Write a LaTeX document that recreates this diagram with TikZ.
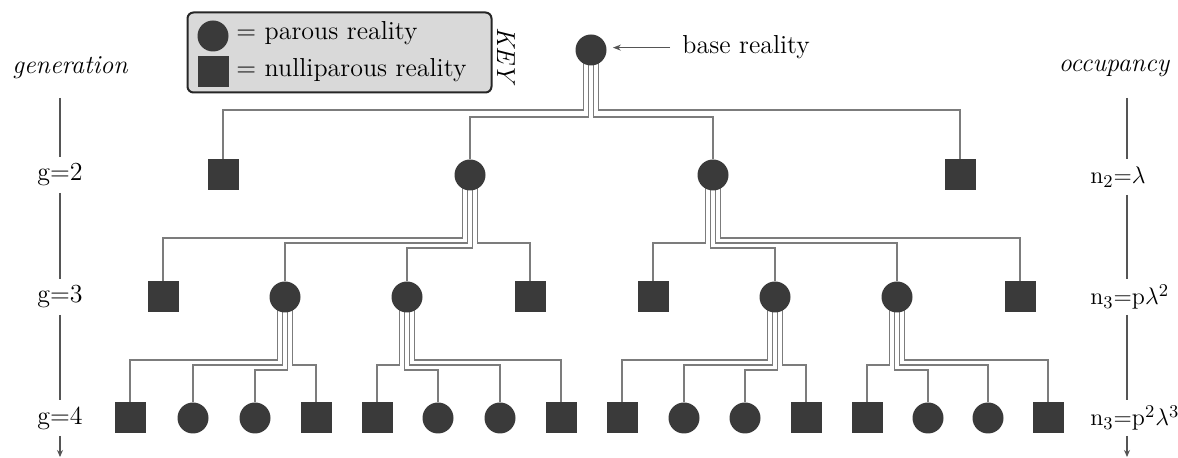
\documentclass[tikz,border=0pt]{standalone}
\usetikzlibrary{calc,arrows.meta}
\pgfdeclarelayer{bg}
\pgfsetlayers{bg,main}
\definecolor{nodefill}{HTML}{3A3A3A}
\definecolor{linkgray}{HTML}{7C7C7C}
\definecolor{keyfill}{HTML}{D9D9D9}
\definecolor{axisgray}{HTML}{555555}
\tikzset{
  basefont/.style={font=\fontsize{13}{15.5}\selectfont},
  itfont/.style={font=\fontsize{13}{15.5}\selectfont\itshape},
  par/.style={circle, fill=nodefill, minimum size=15.5pt, inner sep=0pt},
  nul/.style={rectangle, fill=nodefill, minimum size=15.5pt, inner sep=0pt},
  link/.style={draw=linkgray, line width=0.8pt},
  axisline/.style={draw=axisgray, line width=0.55pt},
  axisend/.style={axisline, -{Stealth[length=3.5pt,width=3pt]}},
  lbl/.style={basefont, inner sep=0pt},
  itlbl/.style={itfont, inner sep=0pt},
}
\newcommand\mybundle[4]{%
  \draw[link] let \p1=(#1.center), \p2=(#2.north) in
    ({\x1+(#3)*0.5pt},\y1) -- ({\x1+(#3)*0.5pt},{-(#4)*0.5pt})
    -- (\x2,{-(#4)*0.5pt}) -- (\x2,\y2);}
\begin{document}
\begin{tikzpicture}[x=0.5pt,y=-0.5pt]
\useasboundingbox (0,0) rectangle (1178,458);
% key
\node[draw=black!85, line width=1pt, rounded corners=3pt, fill=keyfill,
      minimum width=152pt, minimum height=40pt, inner sep=0pt] (key) at (339.5,52.5) {};
\node[par] (kc) at (213,36) {};
\node[nul] (ks) at (213,72) {};
\node[lbl, anchor=base west] (kct) at (236,40) {= parous reality};
\node[lbl, anchor=base west] (kst) at (236,77) {= nulliparous reality};
\node[itlbl, rotate=-90] (keyt) at (506,55) {KEY};
% root
\node[par] (r) at (591,50) {};
\node[lbl, anchor=base west] (brt) at (682,54) {base reality};
\draw[link, line width=0.6pt, draw=axisgray, -{Stealth[length=4pt,width=3pt]}]
  ([xshift=-6pt]brt.west) -- ([xshift=3pt]r.east |- brt.west);
% generation 2
\node[nul] (a1) at (223,175) {};
\node[par] (a2) at (470,175) {};
\node[par] (a3) at (713,175) {};
\node[nul] (a4) at (960,175) {};
% generation 3
\node[nul] (b1) at (163,297) {};
\node[par] (b2) at (285,297) {};
\node[par] (b3) at (407,297) {};
\node[nul] (b4) at (530,297) {};
\node[nul] (b5) at (653,297) {};
\node[par] (b6) at (775,297) {};
\node[par] (b7) at (897,297) {};
\node[nul] (b8) at (1020,297) {};
% generation 4
\node[nul] (c1) at (130,418) {};
\node[par] (c2) at (193,418) {};
\node[par] (c3) at (255,418) {};
\node[nul] (c4) at (316,418) {};
\node[nul] (c5) at (377,418) {};
\node[par] (c6) at (438,418) {};
\node[par] (c7) at (500,418) {};
\node[nul] (c8) at (561,418) {};
\node[nul] (c9) at (622,418) {};
\node[par] (c10) at (684,418) {};
\node[par] (c11) at (745,418) {};
\node[nul] (c12) at (806,418) {};
\node[nul] (c13) at (867,418) {};
\node[par] (c14) at (928,418) {};
\node[par] (c15) at (988,418) {};
\node[nul] (c16) at (1048,418) {};
% connectors
\begin{pgfonlayer}{bg}
\mybundle{r}{a1}{-7.5}{110}
\mybundle{r}{a2}{-2.5}{117}
\mybundle{r}{a3}{2.5}{117}
\mybundle{r}{a4}{7.5}{110}
\mybundle{a2}{b1}{-7.5}{238}
\mybundle{a2}{b2}{-2.5}{243}
\mybundle{a2}{b3}{2.5}{248}
\mybundle{a2}{b4}{7.5}{243}
\mybundle{a3}{b5}{-7.5}{243}
\mybundle{a3}{b6}{-2.5}{248}
\mybundle{a3}{b7}{2.5}{243}
\mybundle{a3}{b8}{7.5}{238}
\mybundle{b2}{c1}{-7.5}{360}
\mybundle{b2}{c2}{-2.5}{365}
\mybundle{b2}{c3}{2.5}{370}
\mybundle{b2}{c4}{7.5}{365}
\mybundle{b3}{c5}{-7.5}{365}
\mybundle{b3}{c6}{-2.5}{370}
\mybundle{b3}{c7}{2.5}{365}
\mybundle{b3}{c8}{7.5}{360}
\mybundle{b6}{c9}{-7.5}{360}
\mybundle{b6}{c10}{-2.5}{365}
\mybundle{b6}{c11}{2.5}{370}
\mybundle{b6}{c12}{7.5}{365}
\mybundle{b7}{c13}{-7.5}{365}
\mybundle{b7}{c14}{-2.5}{370}
\mybundle{b7}{c15}{2.5}{365}
\mybundle{b7}{c16}{7.5}{360}
\end{pgfonlayer}
% generation axis
\node[itlbl] (gen) at (70,68) {generation};
\node[lbl] (g2l) at (60,175) {g=2};
\node[lbl] (g3l) at (60,297) {g=3};
\node[lbl] (g4l) at (60,418) {g=4};
\coordinate (gend) at (60,457);
\draw[axisline, shorten <=15pt, shorten >=9pt] (g2l.center |- gen.center) -- (g2l.center);
\draw[axisline, shorten <=9pt, shorten >=9pt] (g2l.center) -- (g3l.center);
\draw[axisline, shorten <=9pt, shorten >=9pt] (g3l.center) -- (g4l.center);
\draw[axisend, shorten <=9pt] (g4l.center) -- (gend);
% occupancy axis
\coordinate (rax) at (1127,0);
\coordinate (oend) at (1127,457);
\node[itlbl] (occ) at (1114,68) {occupancy};
\node[lbl, anchor=west] (n2) at (1090,177) {$\mathrm{n}_2{=}\lambda$};
\node[lbl, anchor=west] (n3) at (1090,297) {$\mathrm{n}_3{=}\mathrm{p}\lambda^2$};
\node[lbl, anchor=west] (n4) at (1090,418) {$\mathrm{n}_3{=}\mathrm{p}^2\lambda^3$};
\draw[axisline, shorten <=15pt, shorten >=9pt] (rax |- occ.center) -- (rax |- n2.center);
\draw[axisline, shorten <=9pt, shorten >=9pt] (rax |- n2.center) -- (rax |- n3.center);
\draw[axisline, shorten <=9pt, shorten >=9pt] (rax |- n3.center) -- (rax |- n4.center);
\draw[axisend, shorten <=9pt] (rax |- n4.center) -- (oend);
\end{tikzpicture}
\end{document}
